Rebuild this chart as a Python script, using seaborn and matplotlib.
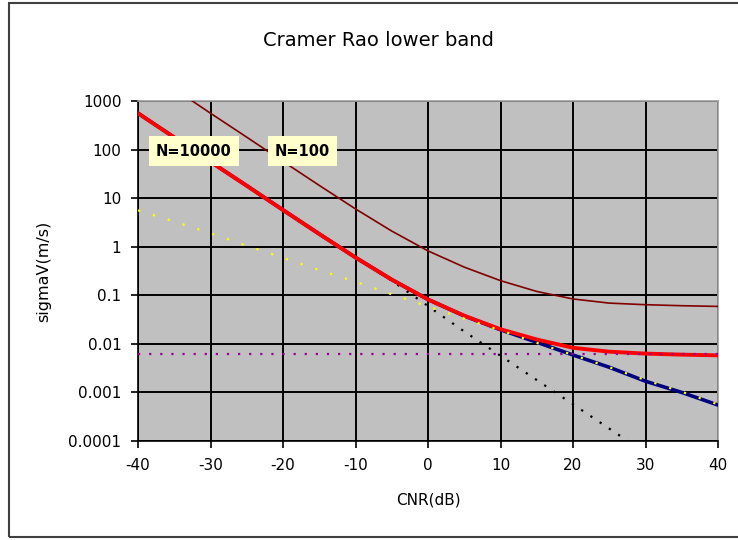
import matplotlib
matplotlib.use("Agg")
import matplotlib.pyplot as plt
import matplotlib.patches as mpatches
import seaborn as sns
import pandas as pd

# ---- data ----
cnr_db = [-40, -35, -30, -25, -20, -15, -10, -5, 0, 5, 10, 15, 20, 25, 30, 35, 40]
n10000 = [560, 178, 56, 18, 5.7, 1.83, 0.60, 0.21, 0.082, 0.038, 0.020, 0.0123, 0.0083, 0.0069, 0.0063, 0.0060, 0.0058]
n100 = [5600, 1780, 560, 180, 57, 18.3, 6.0, 2.1, 0.82, 0.38, 0.20, 0.12, 0.084, 0.069, 0.064, 0.061, 0.059]
no_floor = [560, 178, 56, 18, 5.7, 1.83, 0.60, 0.21, 0.082, 0.0376, 0.0195, 0.0108, 0.0059, 0.0033, 0.0017, 0.00100, 0.00055]
high_cnr = [5.6, 3.3, 1.9, 1.05, 0.59, 0.33, 0.19, 0.105, 0.059, 0.033, 0.019, 0.0105, 0.0059, 0.0033, 0.0018, 0.00103, 0.00057]
low_cnr = [560, 178, 56, 18, 5.7, 1.8, 0.59, 0.20, 0.060, 0.018, 0.0057, 0.0018, 0.00057, 0.00018, 0.000057, 0.000018, 0.0000057]
floor = [0.0062] * len(cnr_db)

y_ticks = [1000, 100, 10, 1, 0.1, 0.01, 0.001, 0.0001]
y_tick_labels = ["1000", "100", "10", "1", "0.1", "0.01", "0.001", "0.0001"]
x_ticks = [-40, -30, -20, -10, 0, 10, 20, 30, 40]

df = pd.DataFrame({"cnr": cnr_db, "n10000": n10000, "n100": n100, "no_floor": no_floor,
                   "high": high_cnr, "low": low_cnr, "floor": floor})

sns.set_style("ticks")
plt.rcParams["font.family"] = ["DejaVu Sans"]
plt.rcParams["text.color"] = "black"
plt.rcParams["axes.labelcolor"] = "black"
plt.rcParams["xtick.color"] = "black"
plt.rcParams["ytick.color"] = "black"

fig = plt.figure(figsize=(7.38, 5.40), dpi=100)
ax = fig.add_axes([138 / 738, 1 - 441 / 540, 580 / 738, 340 / 540])
ax.set_yscale("log")
ax.set_facecolor("#C0C0C0")

sns.lineplot(data=df, x="cnr", y="low", ax=ax, color="black", lw=1.6, linestyle=(0, (1, 4)), zorder=3)
sns.lineplot(data=df, x="cnr", y="no_floor", ax=ax, color="#000080", lw=2.6, zorder=4)
sns.lineplot(data=df, x="cnr", y="n10000", ax=ax, color="#FF0000", lw=2.8, zorder=5)
sns.lineplot(data=df, x="cnr", y="high", ax=ax, color="#FFFF00", lw=1.6, linestyle=(0, (1, 6)), zorder=6)
sns.lineplot(data=df, x="cnr", y="floor", ax=ax, color="#990099", lw=1.6, linestyle=(0, (1, 4)), zorder=6)
sns.lineplot(data=df, x="cnr", y="n100", ax=ax, color="#800000", lw=1.2, zorder=6)

ax.set_xlim(-40, 40)
ax.set_ylim(0.0001, 1000)
ax.set_xticks(x_ticks)
ax.set_xticklabels([str(t) for t in x_ticks])
ax.set_yticks(y_ticks)
ax.set_yticklabels(y_tick_labels)
ax.minorticks_off()
ax.grid(True, color="black", lw=1.4, zorder=1)
ax.set_axisbelow(True)
for s in ax.spines.values():
    s.set_color("black")
    s.set_linewidth(1.2)
ax.spines["top"].set_color("#A0A0A0")
ax.spines["right"].set_color("#A0A0A0")
ax.tick_params(axis="both", direction="out", length=5, width=1.2, color="black",
               labelcolor="black", labelsize=11, pad=7)
ax.set_xlabel("CNR(dB)", fontsize=11, labelpad=14, color="black")
ax.set_ylabel("sigmaV(m/s)", fontsize=11.5, labelpad=12, color="black")

box = dict(boxstyle="square,pad=0.5", fc="#FFFFCC", ec="none")
ax.text(-32.3, 93, "N=10000", ha="center", va="center", fontsize=10.5, fontweight="bold",
        color="black", bbox=box, zorder=10)
ax.text(-17.3, 93, "N=100", ha="center", va="center", fontsize=10.5, fontweight="bold",
        color="black", bbox=box, zorder=10)

fig.text(378 / 738, 1 - 40 / 540, "Cramer Rao lower band", ha="center", va="center",
         fontsize=14, color="black")

frame = mpatches.Rectangle((9 / 738, 3 / 540), 740 / 738, 534 / 540, transform=fig.transFigure,
                           fill=False, ec="#404040", lw=1.5)
fig.patches.append(frame)

fig.savefig("out.png", dpi=100)
